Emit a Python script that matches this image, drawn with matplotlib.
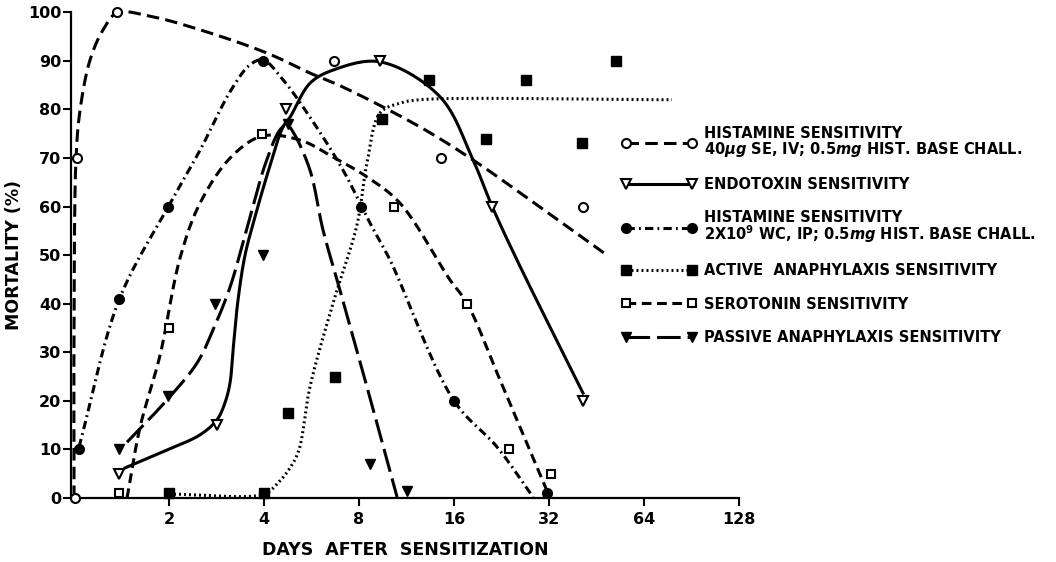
import numpy as np
import matplotlib
matplotlib.use("Agg")
import matplotlib.pyplot as plt
from matplotlib.lines import Line2D
from matplotlib.ticker import FixedLocator, FixedFormatter, NullLocator

plt.rcParams['font.family'] = ['DejaVu Sans']
plt.rcParams['font.weight'] = 'bold'
plt.rcParams['lines.scale_dashes'] = False
plt.rcParams['mathtext.fontset'] = 'dejavusans'

# --- plotted points: days after sensitization, mortality (%) ---
hist_iv_days = [1.01, 1.02, 1.37, 6.67, 14.6, 41.0]
hist_iv_mort = [0, 70, 100, 90, 70, 60]

endo_days = [1.39, 2.84, 4.70, 9.33, 21.1, 41.0]
endo_mort = [5, 15, 80, 90, 60, 20]

hist_ip_days = [1.04, 1.39, 1.985, 3.97, 8.12, 16.0, 31.5]
hist_ip_mort = [10, 41, 60, 90, 60, 20, 1]

active_days = [2.0, 4.0, 4.77, 6.71, 9.46, 13.34, 20.2, 27.1, 40.7, 52.2]
active_mort = [1, 1, 17.5, 25, 78, 86, 74, 86, 73, 90]

sero_days = [1.39, 2.0, 3.94, 10.32, 17.59, 23.9, 32.5]
sero_mort = [1, 35, 75, 60, 40, 10, 5]

passive_days = [1.39, 1.985, 2.80, 3.97, 4.77, 8.67, 11.35]
passive_mort = [10, 21, 40, 50, 77, 7, 1.5]

# --- hand drawn curves (knots) ---
hist_iv_cdays = [1.00, 1.00, 1.015, 1.045, 1.124, 1.236, 1.369, 1.741, 2.507, 4.09,
                 5.59, 7.12, 12.48, 18.38, 29.96, 48.87]
hist_iv_cmort = [0, 34.6, 70.2, 79.9, 90.2, 96.4, 99.9, 99.2, 96.4, 91.6,
                 87.5, 84.6, 76.4, 69.6, 59.9, 50.0]

endo_cdays = [1.451, 1.971, 2.507, 2.838, 3.008, 3.121, 3.191, 3.309, 3.482, 3.72,
              4.118, 4.595, 4.836, 5.594, 6.617, 9.33, 14.45, 18.38, 21.11, 25.33, 41.0]
endo_cmort = [6.2, 9.9, 13.0, 16.1, 19.6, 23.7, 30.5, 40.8, 50.0, 57.2,
              67.1, 76.4, 78.4, 85.4, 88.1, 89.8, 82.6, 69.6, 60.1, 49.0, 21.6]

hist_ip_cdays = [1.037, 1.389, 1.985, 2.507, 3.145, 3.612, 3.97, 4.595, 5.594, 7.12,
                 8.67, 10.03, 16.0, 21.9, 28.48]
hist_ip_cmort = [10.5, 40.8, 59.9, 71.6, 84.0, 89.2, 90.2, 86.1, 78.4, 67.5,
                 56.6, 49.0, 20.0, 10.5, 0.2]

active_cdays = [2.0, 4.0, 4.40, 4.836, 5.16, 5.594, 6.617, 7.88, 8.48, 9.33,
                10.79, 12.48, 78.5]
active_cmort = [0.8, 0.8, 2.9, 6.2, 9.9, 22.9, 40.1, 56.2, 69.0, 79.3,
                81.3, 82.0, 82.0]

sero_cdays = [1.472, 1.619, 1.873, 2.167, 2.507, 3.145, 3.94, 5.20, 6.617, 8.48,
              10.79, 15.54, 17.59, 22.38, 31.76]
sero_cmort = [0, 14.6, 29.4, 49.4, 60.7, 70.2, 74.5, 73.7, 70.2, 66.1,
              60.7, 44.9, 40.1, 24.3, 1.0]

passive_cdays = [1.472, 1.971, 2.454, 2.757, 3.121, 3.533, 4.03, 4.494, 4.73,
                 4.94, 5.594, 6.15, 6.96, 8.36, 10.56]
passive_cmort = [11.5, 20.2, 27.8, 34.6, 43.4, 55.6, 68.6, 75.8, 76.8,
                 75.4, 67.5, 55.2, 42.8, 24.3, 0.2]

x_ticks = [2, 4, 8, 16, 32, 64, 128]
y_ticks = list(range(0, 101, 10))

labels = [
    "HISTAMINE SENSITIVITY\n40$\\mu g$ SE, IV; 0.5$mg$ HIST. BASE CHALL.",
    "ENDOTOXIN SENSITIVITY",
    "HISTAMINE SENSITIVITY\n2X10$^9$ WC, IP; 0.5$mg$ HIST. BASE CHALL.",
    "ACTIVE  ANAPHYLAXIS SENSITIVITY",
    "SEROTONIN SENSITIVITY",
    "PASSIVE ANAPHYLAXIS SENSITIVITY",
]


def smooth(ax, xs, ys, n=30):
    # centripetal catmull-rom through the knots, done in screen space
    pts = ax.transData.transform(np.column_stack([xs, ys]))
    pts = np.vstack([2 * pts[0] - pts[1], pts, 2 * pts[-1] - pts[-2]])
    out = [pts[1]]
    for i in range(1, len(pts) - 2):
        p0, p1, p2, p3 = pts[i - 1:i + 3]
        t0 = 0.0
        t1 = t0 + max(np.linalg.norm(p1 - p0), 1e-6) ** 0.5
        t2 = t1 + max(np.linalg.norm(p2 - p1), 1e-6) ** 0.5
        t3 = t2 + max(np.linalg.norm(p3 - p2), 1e-6) ** 0.5
        t = np.linspace(t1, t2, n)[1:, None]
        a1 = (t1 - t) / (t1 - t0) * p0 + (t - t0) / (t1 - t0) * p1
        a2 = (t2 - t) / (t2 - t1) * p1 + (t - t1) / (t2 - t1) * p2
        a3 = (t3 - t) / (t3 - t2) * p2 + (t - t2) / (t3 - t2) * p3
        b1 = (t2 - t) / (t2 - t0) * a1 + (t - t0) / (t2 - t0) * a2
        b2 = (t3 - t) / (t3 - t1) * a2 + (t - t1) / (t3 - t1) * a3
        c = (t2 - t) / (t2 - t1) * b1 + (t - t1) / (t2 - t1) * b2
        out.extend(c)
    out = ax.transData.inverted().transform(np.array(out))
    return out[:, 0], out[:, 1]


fig = plt.figure(figsize=(10.56, 5.62), dpi=100)
ax = fig.add_axes([71 / 1056, 1 - 498 / 562, 668 / 1056, 485.7 / 562])
ax.set_xscale('log', base=2)
ax.set_xlim(2 ** -0.032, 128)
ax.set_ylim(0, 100)

lw = 2.2
series = [
    (hist_iv_days, hist_iv_mort, hist_iv_cdays, hist_iv_cmort,
     dict(dashes=(9, 4.5)), dict(marker='o', ms=6.5, mfc='white', mew=1.5)),
    (endo_days, endo_mort, endo_cdays, endo_cmort,
     dict(linestyle='-'), dict(marker='v', ms=7, mfc='white', mew=1.5)),
    (hist_ip_days, hist_ip_mort, hist_ip_cdays, hist_ip_cmort,
     dict(dashes=(6, 3, 1.3, 3)), dict(marker='o', ms=7, mfc='black', mew=1)),
    (active_days, active_mort, active_cdays, active_cmort,
     dict(dashes=(1.4, 2.2)), dict(marker='s', ms=7, mfc='black', mew=1)),
    (sero_days, sero_mort, sero_cdays, sero_cmort,
     dict(dashes=(7, 4)), dict(marker='s', ms=6, mfc='white', mew=1.5)),
    (passive_days, passive_mort, passive_cdays, passive_cmort,
     dict(dashes=(17, 5)), dict(marker='v', ms=7.5, mfc='black', mew=1)),
]

handles = []
for d, m, cd, cm, lstyle, mstyle in series:
    sx, sy = smooth(ax, cd, cm)
    ax.plot(sx, sy, color='black', lw=lw, clip_on=False, zorder=2, **lstyle)
    ax.plot(d, m, linestyle='none', color='black', mec='black', clip_on=False,
            zorder=3, **mstyle)
    handles.append(Line2D([], [], color='black', lw=lw, mec='black', **lstyle, **mstyle))

for s in ['top', 'right']:
    ax.spines[s].set_visible(False)
for s in ['left', 'bottom']:
    ax.spines[s].set_linewidth(1.6)

ax.xaxis.set_major_locator(FixedLocator(x_ticks))
ax.xaxis.set_major_formatter(FixedFormatter([str(t) for t in x_ticks]))
ax.xaxis.set_minor_locator(NullLocator())
ax.yaxis.set_major_locator(FixedLocator(y_ticks))
ax.tick_params(axis='both', direction='out', length=6, width=1.5, labelsize=11.5)
ax.tick_params(axis='y', pad=1)
ax.tick_params(axis='x', pad=4)

ax.set_xlabel("DAYS  AFTER  SENSITIZATION", fontsize=12.5, fontweight='bold')
ax.set_ylabel("MORTALITY (%)", fontsize=12.5, fontweight='bold')
ax.xaxis.set_label_coords(0.5, -0.088)
ax.yaxis.set_label_coords(-0.072, 0.5)

leg = fig.legend(handles, labels, loc='upper left',
                 bbox_to_anchor=(621.4 / 1056, 1 - 126 / 562),
                 frameon=False, numpoints=2, fontsize=10.5, handlelength=5.12,
                 handletextpad=0.54, labelspacing=1.25, borderpad=0, borderaxespad=0)
for t in leg.get_texts():
    t.set_linespacing(0.9)

fig.savefig("out.png", dpi=100)
